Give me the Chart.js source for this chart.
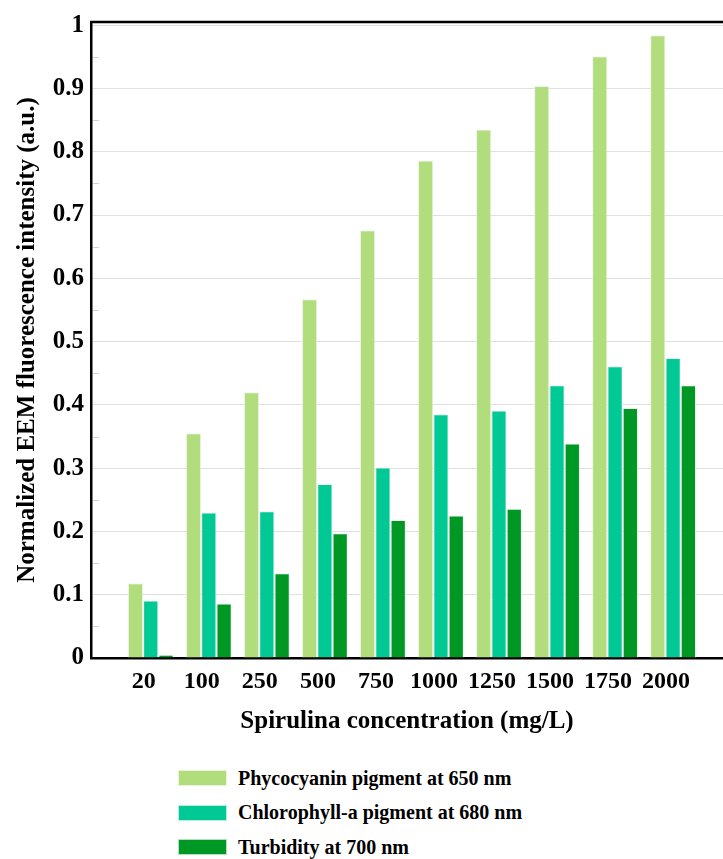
<!DOCTYPE html>
<html>
<head>
<meta charset="utf-8">
<script src="https://cdn.jsdelivr.net/npm/chart.js@4"></script>
<style>
    body { margin: 0; background: #fff; }
    #wrap { position: relative; width: 723px; height: 859px; }
    #chartBox { position: absolute; left: 0; top: 0; width: 723px; height: 740px; }
    #legend { position: absolute; left: 178px; top: 768px; font-family: "Liberation Serif", "Times New Roman", serif; font-weight: bold; font-size: 20px; color: #000; }
    .item { display: flex; align-items: center; height: 20px; margin-bottom: 14.5px; }
    .swatch { width: 47px; height: 14px; border: 1px solid rgba(255,255,255,0.7); margin-right: 11px; }
</style>
</head>
<body>
<div id="wrap">
    <div id="chartBox"><canvas id="myChart" width="723" height="740"></canvas></div>
    <div id="legend"></div>
</div>
<script>
// Data
const categories = ['20', '100', '250', '500', '750', '1000', '1250', '1500', '1750', '2000'];
const seriesNames = ['Phycocyanin pigment at 650 nm', 'Chlorophyll-a pigment at 680 nm', 'Turbidity at 700 nm'];
const seriesColors = ['#b2dd7c', '#00c995', '#009824'];
const phycocyanin = [0.118, 0.355, 0.42, 0.567, 0.676, 0.786, 0.835, 0.904, 0.951, 0.984];
const chlorophyll = [0.091, 0.23, 0.232, 0.275, 0.301, 0.385, 0.391, 0.431, 0.461, 0.474];
const turbidity = [0.005, 0.086, 0.134, 0.197, 0.218, 0.225, 0.236, 0.339, 0.395, 0.431];
const yTicks = [0, 0.1, 0.2, 0.3, 0.4, 0.5, 0.6, 0.7, 0.8, 0.9, 1];

const serif = "'Liberation Serif', 'Times New Roman', serif";

function toPoints(values) {
    return values.map((v, i) => ({ x: i + 1, y: v }));
}

// frame line on top and small minor ticks on the left axis
const framePlugin = {
    id: 'frame',
    afterDraw(chart) {
        const ctx = chart.ctx;
        const area = chart.chartArea;
        const y = chart.scales.y;
        ctx.save();
        ctx.strokeStyle = '#000';
        ctx.lineWidth = 2.5;
        ctx.beginPath();
        ctx.moveTo(area.left - 1, area.top);
        ctx.lineTo(area.right, area.top);
        ctx.stroke();

        ctx.strokeStyle = '#d4d4d4';
        ctx.lineWidth = 1;
        for (let i = 0; i < yTicks.length - 1; i++) {
            const py = Math.round(y.getPixelForValue(yTicks[i] + 0.05)) + 0.5;
            ctx.beginPath();
            ctx.moveTo(area.left + 2, py);
            ctx.lineTo(area.left + 8, py);
            ctx.stroke();
        }
        ctx.restore();
    }
};

const datasets = [phycocyanin, chlorophyll, turbidity].map((vals, k) => ({
    label: seriesNames[k],
    data: toPoints(vals),
    backgroundColor: seriesColors[k],
    borderColor: 'rgba(235,240,235,0.8)',
    borderWidth: 1,
    categoryPercentage: 0.79,
    barPercentage: 1.0
}));

var ctx = document.getElementById('myChart').getContext('2d');
var myChart = new Chart(ctx, {
    type: 'bar',
    data: { datasets: datasets },
    options: {
        responsive: false,
        animation: false,
        layout: { padding: { top: 14, left: 0, right: 0, bottom: 0 } },
        plugins: {
            legend: { display: false },
            tooltip: { enabled: false }
        },
        scales: {
            x: {
                type: 'linear',
                min: -0.03,
                max: 10.86,
                offset: false,
                grid: { display: false, drawTicks: false, offset: false },
                border: { display: true, color: '#000', width: 2.5 },
                afterBuildTicks: (axis) => {
                    axis.ticks = categories.map((c, i) => ({ value: i + 1 }));
                },
                afterFit: (scale) => { scale.height = 82; },
                ticks: {
                    autoSkip: false,
                    maxRotation: 0,
                    padding: 9,
                    labelOffset: -7,
                    color: '#000',
                    font: { family: serif, weight: 'bold', size: 24 },
                    callback: (value) => categories[value - 1]
                },
                title: {
                    display: true,
                    text: 'Spirulina concentration (mg/L)',
                    color: '#000',
                    font: { family: serif, weight: 'bold', size: 25 },
                    padding: { top: 0, bottom: 3 }
                }
            },
            y: {
                min: 0,
                max: 1.005,
                z: 1,
                grid: { color: 'rgba(0,0,0,0.12)', drawTicks: false },
                border: { display: true, color: '#000', width: 2.5 },
                afterBuildTicks: (axis) => {
                    axis.ticks = yTicks.map((v) => ({ value: v }));
                },
                afterFit: (scale) => { scale.width = 91; },
                ticks: {
                    padding: 7,
                    color: '#000',
                    font: { family: serif, weight: 'bold', size: 25 },
                    callback: (value) => String(value)
                },
                title: {
                    display: true,
                    text: 'Normalized EEM fluorescence intensity (a.u.)',
                    color: '#000',
                    font: { family: serif, weight: 'bold', size: 25 },
                    padding: { top: 13, bottom: 0 }
                }
            }
        }
    },
    plugins: [framePlugin]
});

// legend, one item per line
const legend = document.getElementById('legend');
seriesNames.forEach((name, k) => {
    const item = document.createElement('div');
    item.className = 'item';
    const sw = document.createElement('div');
    sw.className = 'swatch';
    sw.style.background = seriesColors[k];
    const txt = document.createElement('span');
    txt.textContent = name;
    item.appendChild(sw);
    item.appendChild(txt);
    legend.appendChild(item);
});
</script>
</body>
</html>
